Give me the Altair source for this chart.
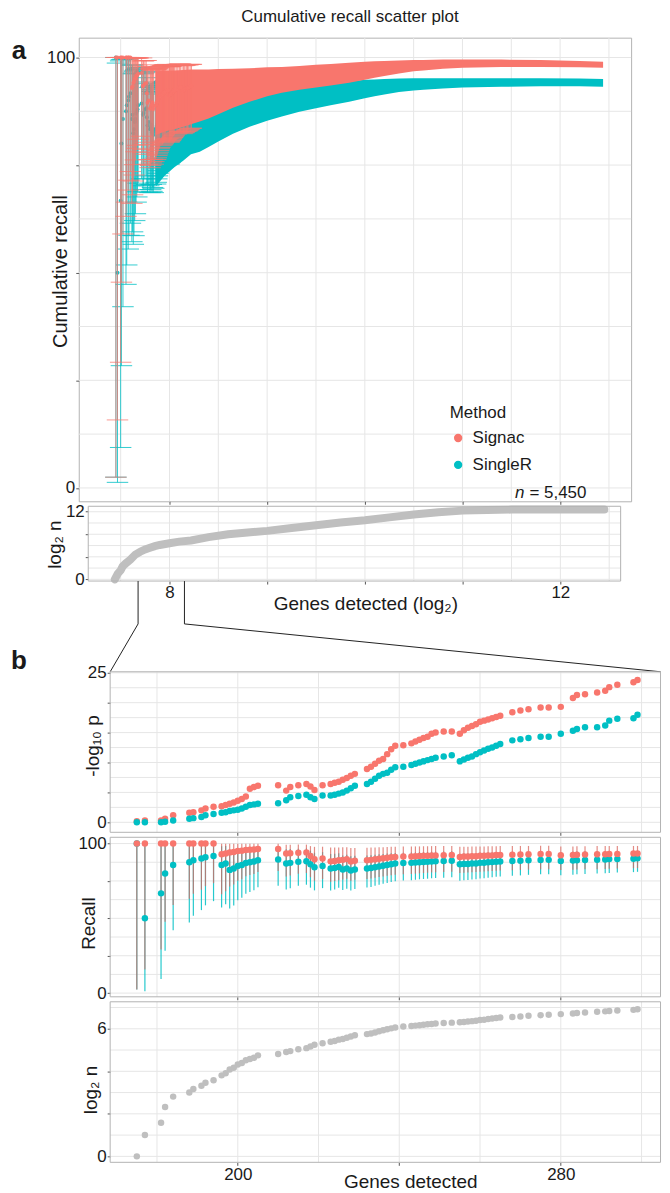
import altair as alt
import pandas as pd

FONT = "Liberation Sans"
RED = "#F8766D"
TEAL = "#00BFC4"
PT_GREY = "#bfbfbf"
GRID = "#e6e6e6"
BORDER = "#b3b3b3"
TICK = "#555555"
INK = "#1a1a1a"

methods = ["Signac", "SingleR"]

# ---------------- panel b data (genes detected, per point) ----------------
genes = [175, 177, 181, 182, 184, 188, 189, 191, 192, 194,
         196, 197, 198, 199, 200, 201, 202, 203, 204, 205,
         210, 212, 213, 215, 217, 218, 219, 221, 223, 224,
         225, 226, 227, 228, 229, 232, 233, 234, 235, 236,
         237, 238, 239, 241, 243, 244, 245, 246, 247, 248,
         249, 251, 253, 255, 256, 257, 258, 259, 260, 261,
         262, 263, 264, 265, 268, 270, 272, 275, 277, 280,
         283, 284, 286, 289, 291, 292, 294, 298, 299]

log2n = [0.00, 1.00, 1.58, 2.32, 2.81, 3.00, 3.17, 3.32, 3.46, 3.58,
         3.81, 3.91, 4.09, 4.17, 4.32, 4.39, 4.52, 4.58, 4.64, 4.75,
         4.81, 4.91, 4.95, 5.04, 5.09, 5.17, 5.25, 5.32, 5.39, 5.43,
         5.49, 5.52, 5.58, 5.64, 5.70, 5.75, 5.78, 5.83, 5.88, 5.93,
         5.98, 6.02, 6.06, 6.11, 6.13, 6.15, 6.17, 6.19, 6.21, 6.23,
         6.25, 6.27, 6.29, 6.31, 6.32, 6.34, 6.36, 6.38, 6.41, 6.43,
         6.46, 6.48, 6.51, 6.53, 6.55, 6.58, 6.61, 6.64, 6.66, 6.69,
         6.72, 6.74, 6.77, 6.80, 6.82, 6.84, 6.86, 6.89, 6.92]

nlp_signac = [0.2, 0.3, 0.3, 0.6, 1.2, 1.6, 1.7, 2.0, 2.3, 2.6,
              2.7, 2.9, 3.1, 3.3, 3.6, 3.9, 4.3, 5.6, 5.9, 6.1,
              6.2, 5.3, 5.9, 6.2, 6.4, 6.0, 5.4, 6.2, 6.4, 6.6,
              6.8, 7.1, 7.4, 7.8, 8.1, 8.9, 9.3, 9.8, 10.3, 10.6,
              11.4, 12.2, 12.8, 12.9, 13.2, 13.5, 13.8, 14.1, 14.3, 14.8,
              15.0, 15.2, 15.2, 14.8, 15.4, 15.8, 16.1, 16.4, 16.8, 17.0,
              17.2, 17.4, 17.6, 17.8, 18.4, 18.7, 18.9, 19.2, 19.2, 19.3,
              20.8, 21.3, 21.4, 21.7, 22.0, 22.6, 23.0, 23.4, 23.8]

nlp_singler = [0.0, 0.0, 0.0, 0.1, 0.3, 0.6, 0.7, 0.9, 1.2, 1.4,
               1.6, 1.7, 1.9, 2.0, 2.1, 2.3, 2.6, 2.9, 3.0, 3.1,
               3.2, 3.7, 4.2, 4.4, 4.6, 4.2, 3.9, 4.5, 4.5, 4.6,
               4.8, 5.0, 5.3, 5.7, 6.1, 6.4, 6.8, 7.3, 7.8, 8.1,
               8.3, 8.8, 9.2, 9.3, 9.6, 9.8, 10.0, 10.2, 10.4, 10.6,
               10.8, 11.0, 11.2, 10.2, 10.5, 10.8, 11.0, 11.4, 11.7, 12.0,
               12.3, 12.5, 12.8, 13.1, 13.7, 13.9, 14.1, 14.3, 14.3, 14.8,
               15.3, 15.6, 15.9, 15.9, 16.2, 17.0, 17.3, 17.4, 18.0]

rec_signac = [100, 100, 100, 100, 100, 100, 100, 100, 100, 100,
              92.9, 93.3, 94.1, 94.4, 95.0, 95.2, 95.7, 95.8, 96.0, 96.3,
              96.4, 93.3, 93.5, 93.9, 94.1, 91.7, 89.5, 90.0, 88.1, 88.4,
              88.9, 89.1, 89.6, 88.0, 88.5, 88.9, 89.1, 89.5, 89.8, 90.2,
              90.5, 90.8, 91.0, 91.3, 91.4, 91.5, 91.7, 91.8, 91.9, 92.0,
              92.1, 92.2, 92.3, 91.1, 91.3, 91.4, 91.5, 91.6, 91.8, 91.9,
              92.0, 92.1, 92.3, 92.4, 92.6, 92.7, 92.9, 93.0, 93.1, 92.2,
              92.4, 92.5, 92.7, 92.8, 92.9, 93.0, 93.1, 93.3, 93.4]

rec_signac_lo = [2.5, 15.8, 29.2, 47.8, 59.0, 63.1, 66.4, 69.2, 71.5, 73.5,
                 66.1, 68.1, 71.3, 72.7, 75.1, 76.2, 78.1, 78.9, 79.6, 81.0,
                 81.7, 77.9, 78.6, 79.8, 80.3, 77.5, 75.2, 76.3, 74.4, 74.9,
                 75.5, 75.9, 76.4, 75.2, 75.8, 76.3, 76.7, 77.2, 77.6, 78.0,
                 78.4, 78.8, 79.1, 79.5, 79.7, 79.9, 80.1, 80.3, 80.5, 80.7,
                 80.9, 81.0, 81.2, 80.3, 80.5, 80.7, 80.8, 81.0, 81.2, 81.4,
                 81.5, 81.7, 81.8, 82.0, 82.2, 82.4, 82.6, 82.8, 82.9, 82.3,
                 82.5, 82.6, 82.8, 82.9, 83.0, 83.2, 83.3, 83.5, 83.6]

rec_signac_hi = [100, 100, 100, 100, 100, 100, 100, 100, 100, 100,
                 99.8, 99.8, 99.9, 99.9, 99.9, 99.9, 99.9, 99.9, 99.9, 99.9,
                 99.9, 99.2, 99.2, 99.3, 99.3, 98.3, 97.8, 97.9, 97.3, 97.3,
                 97.4, 97.5, 97.6, 97.0, 97.1, 97.2, 97.3, 97.4, 97.5, 97.6,
                 97.7, 97.8, 97.9, 98.0, 98.0, 98.1, 98.1, 98.2, 98.2, 98.3,
                 98.3, 98.3, 98.4, 97.8, 97.9, 97.9, 98.0, 98.0, 98.1, 98.1,
                 98.2, 98.2, 98.2, 98.3, 98.3, 98.4, 98.4, 98.5, 98.5, 98.1,
                 98.1, 98.2, 98.2, 98.3, 98.3, 98.3, 98.4, 98.4, 98.4]

rec_singler = [100, 50.0, 66.7, 80.0, 85.7, 87.5, 88.9, 90.0, 90.9, 91.7,
               85.7, 86.7, 82.4, 83.3, 85.0, 85.7, 87.0, 87.5, 88.0, 88.9,
               89.3, 86.7, 87.1, 87.9, 88.2, 86.1, 84.2, 85.0, 83.3, 83.7,
               84.4, 82.6, 83.3, 82.0, 82.7, 83.3, 83.6, 84.2, 84.7, 85.2,
               85.7, 86.2, 86.6, 87.0, 87.1, 87.3, 87.5, 87.7, 87.8, 88.0,
               88.2, 88.3, 88.5, 86.1, 86.3, 86.4, 86.6, 86.7, 87.1, 87.2,
               87.5, 87.6, 87.9, 88.0, 88.3, 88.5, 88.8, 89.0, 89.1, 88.3,
               88.6, 88.8, 89.0, 89.2, 89.4, 89.6, 89.7, 89.9, 90.1]

rec_singler_lo = [2.5, 1.3, 9.4, 28.4, 42.1, 47.3, 51.8, 55.5, 58.7, 61.5,
                  57.2, 59.5, 56.6, 58.6, 62.1, 63.7, 66.4, 67.6, 68.8, 70.8,
                  71.8, 69.3, 70.2, 71.8, 72.5, 70.5, 68.7, 70.2, 68.6, 69.3,
                  70.5, 68.9, 69.8, 68.6, 69.6, 70.6, 71.0, 71.8, 72.5, 73.1,
                  73.7, 74.3, 74.8, 75.3, 75.5, 75.8, 76.1, 76.3, 76.5, 76.8,
                  77.0, 77.2, 77.5, 75.2, 75.5, 75.7, 76.0, 76.2, 76.6, 76.8,
                  77.2, 77.4, 77.8, 78.0, 78.4, 78.7, 79.1, 79.4, 79.5, 78.8,
                  79.2, 79.4, 79.7, 79.9, 80.2, 80.4, 80.6, 80.9, 81.1]

rec_singler_hi = [100, 98.7, 99.2, 99.5, 99.6, 99.7, 99.7, 99.7, 99.8, 99.8,
                  98.2, 98.3, 96.2, 96.4, 96.8, 97.0, 97.2, 97.3, 97.5, 97.6,
                  97.7, 96.2, 96.4, 96.6, 96.7, 95.3, 93.9, 94.3, 93.0, 93.2,
                  93.5, 92.1, 92.5, 91.5, 91.8, 92.0, 92.2, 92.5, 92.8, 93.0,
                  93.3, 93.5, 93.7, 93.9, 94.0, 94.1, 94.2, 94.3, 94.4, 94.5,
                  94.6, 94.7, 94.8, 93.2, 93.3, 93.4, 93.5, 93.6, 93.8, 93.9,
                  94.0, 94.1, 94.3, 94.4, 94.5, 94.6, 94.8, 94.9, 95.0, 94.4,
                  94.6, 94.7, 94.8, 94.9, 95.0, 95.1, 95.2, 95.3, 95.4]

# ---------------- panel a: dense part drawn as bands (log2 genes) ----------------
band_x = [7.86, 7.95, 8.05, 8.14,
          8.22, 8.31, 8.40, 8.50, 8.65, 8.82, 9.00, 9.15, 9.33, 9.50, 9.65, 9.84,
          10.00, 10.10, 10.20, 10.35, 10.50, 10.60, 10.80, 11.00, 11.40, 11.80, 12.20, 12.44]
band_signac_lo = [82.0, 82.8, 83.3, 83.9,
                  84.5, 85.1, 85.8, 86.8, 88.3, 89.7, 91.0, 91.8, 92.5, 93.0, 93.5, 94.1,
                  94.8, 95.3, 95.7, 96.3, 96.8, 97.0, 97.4, 97.6, 97.8, 97.8, 97.7, 97.6]
band_signac_hi = [96.8, 96.9, 97.0, 97.1,
                  97.2, 97.2, 97.2, 97.3, 97.4, 97.5, 97.7, 97.8, 98.0, 98.3, 98.5, 98.8,
                  99.0, 99.1, 99.2, 99.3, 99.4, 99.4, 99.5, 99.5, 99.5, 99.4, 99.2, 99.0]
band_singler_hi = [83.0, 83.5, 84.0, 85.0,
                   86.0, 86.6, 87.3, 88.3, 89.8, 91.2, 92.2, 92.9, 93.5, 93.9, 94.2, 94.5,
                   94.8, 94.9, 95.0, 95.1, 95.2, 95.2, 95.2, 95.2, 95.2, 95.2, 95.1, 95.0]
band_singler_lo = [70.0, 72.5, 74.5, 76.0,
                   77.5, 78.1, 79.2, 80.5, 82.3, 83.9, 85.3, 86.3, 87.4, 88.2, 88.9, 89.7,
                   90.5, 91.0, 91.4, 92.0, 92.3, 92.5, 92.8, 93.0, 93.2, 93.3, 93.3, 93.2]

# ---------------- panel a: log2 n curve ----------------
sub_x = [7.44, 7.47, 7.50, 7.52, 7.55, 7.60, 7.65, 7.70, 7.75, 7.80, 7.85, 7.90, 8.00,
         8.10, 8.22, 8.40, 8.60, 8.80, 9.00, 9.25, 9.50, 9.75, 10.00, 10.25, 10.50,
         10.75, 11.00, 11.25, 11.50, 12.00, 12.45]
sub_log2n = [0.0, 1.0, 1.6, 2.3, 2.8, 3.5, 4.4, 4.9, 5.3, 5.6, 5.9, 6.1, 6.4,
             6.7, 6.9, 7.5, 8.0, 8.3, 8.6, 9.1, 9.6, 10.1, 10.5, 11.0, 11.5,
             11.9, 12.2, 12.32, 12.38, 12.40, 12.41]

for arr in [log2n, nlp_signac, nlp_singler, rec_signac, rec_signac_lo, rec_signac_hi,
            rec_singler, rec_singler_lo, rec_singler_hi]:
    assert len(arr) == len(genes), len(arr)
for arr in [band_signac_lo, band_signac_hi, band_singler_lo, band_singler_hi]:
    assert len(arr) == len(band_x), len(arr)
assert len(sub_x) == len(sub_log2n)

sig = pd.DataFrame({"genes": genes, "log2n": log2n, "method": "Signac", "nlp": nlp_signac,
                    "rec": rec_signac, "lo": rec_signac_lo, "hi": rec_signac_hi})
sgr = pd.DataFrame({"genes": genes, "log2n": log2n, "method": "SingleR", "nlp": nlp_singler,
                    "rec": rec_singler, "lo": rec_singler_lo, "hi": rec_singler_hi})
band = pd.DataFrame({"x": band_x, "slo": band_signac_lo, "shi": band_signac_hi,
                     "tlo": band_singler_lo, "thi": band_singler_hi})
subdf = pd.DataFrame({"x": sub_x, "y": sub_log2n})
one = pd.DataFrame({"k": [0]})


def only(vals):
    return " || ".join(f"datum.value == {v}" for v in vals) + " ? datum.label : ''"


# ---------------- layout constants (pixels, all panels left-aligned at the main panel) ----------------
WA, HA = 554, 465          # main panel a
SUB_L, SUB_R, HS = 9.5, 543.5, 75     # sub panel of a (inset from the main panel's left edge)
B_L, B_R = 31.5, 583.5     # panel b (inset)
H1, H2, H3 = 161, 160, 161

# ---------------- scales ----------------
XA = alt.Scale(domain=[7.071, 12.727], nice=False, zero=False)
YA = alt.Scale(domain=[-3.1, 104.6], nice=False, zero=False)
XS = alt.Scale(domain=[7.168, 12.617], range=[SUB_L, SUB_R], nice=False, zero=False)
YS = alt.Scale(domain=[-0.3, 12.97], nice=False, zero=False)
XB = alt.Scale(domain=[168.4, 304.7], range=[B_L, B_R], nice=False, zero=False)
YB1 = alt.Scale(domain=[-1.667, 25.167], nice=False, zero=False)
YB2 = alt.Scale(domain=[-2.47, 104.2], nice=False, zero=False)
YB3 = alt.Scale(domain=[-0.28, 7.27], nice=False, zero=False)
CSCALE = alt.Scale(domain=methods, range=[RED, TEAL])

# ---------------- axes ----------------
AXA_X = alt.Axis(values=[8, 9, 10, 11, 12], labels=False, title=None)
AXA_Y = alt.Axis(values=[0, 25, 50, 75, 100], labelExpr=only([0, 100]), title="Cumulative recall",
                 titleAngle=270, titleX=-18, titleY=234, titleAlign="center", titleBaseline="middle",
                 titleFontSize=20)
AXS_X = alt.Axis(values=[8, 9, 10, 11, 12], labelExpr=only([8, 12]), title="Genes detected (log₂)",
                 titleX=287.5, titleY=23, titleAlign="center", titleBaseline="middle")
AXS_Y = alt.Axis(values=[0, 4, 8, 12], labelExpr=only([0, 12]), title="log₂ n", offset=-SUB_L,
                 titleAngle=270, titleX=-34, titleY=38, titleAlign="center", titleBaseline="middle")
AXB_X = alt.Axis(values=[200, 240, 280], labels=False, title=None)
AXB1_Y = alt.Axis(values=[0, 5, 10, 15, 20, 25], labelExpr=only([0, 25]), title="-log₁₀ p",
                  offset=-B_L, titleAngle=270, titleX=-18, titleY=74, titleAlign="center",
                  titleBaseline="middle")
AXB2_Y = alt.Axis(values=[0, 25, 50, 75, 100], labelExpr=only([0, 100]), title="Recall",
                  offset=-B_L, titleAngle=270, titleX=-22, titleY=86, titleAlign="center",
                  titleBaseline="middle")
AXB3_Y = alt.Axis(values=[0, 2, 4, 6], labelExpr=only([0, 6]), title="log₂ n",
                  offset=-B_L, titleAngle=270, titleX=-20, titleY=88, titleAlign="center",
                  titleBaseline="middle")
AXB3_X = alt.Axis(values=[200, 240, 280], labelExpr=only([200, 280]), title="Genes detected",
                  titleX=332.5, titleY=19, titleAlign="center", titleBaseline="middle")

NOFRAME = alt.ViewBackground(stroke="transparent")


def vgrid(vals, scale, axis):
    return alt.Chart(pd.DataFrame({"v": vals})).mark_rule(color=GRID, strokeWidth=1).encode(
        x=alt.X("v:Q", scale=scale, axis=axis))


def hgrid(vals, scale, axis, x0=None, x1=None):
    enc = dict(y=alt.Y("v:Q", scale=scale, axis=axis))
    if x0 is not None:
        enc["x"] = alt.value(x0)
        enc["x2"] = alt.value(x1)
    return alt.Chart(pd.DataFrame({"v": vals})).mark_rule(color=GRID, strokeWidth=1).encode(**enc)


def frame(x0, x1, h):
    return alt.Chart(one).mark_rect(fillOpacity=0, stroke=BORDER, strokeWidth=1).encode(
        x=alt.value(x0), x2=alt.value(x1), y=alt.value(0), y2=alt.value(h))


def deco_rule(x1, y1, x2, y2, color="#222222", width=1.0, opacity=1.0):
    return alt.Chart(one).mark_rule(color=color, strokeWidth=width, opacity=opacity).encode(
        x=alt.value(x1), y=alt.value(y1), x2=alt.value(x2), y2=alt.value(y2))


def deco_text(txt, x, y, size, weight="normal", style="normal", align="center"):
    return alt.Chart(one).mark_text(text=txt, font=FONT, fontSize=size, fontWeight=weight,
                                    fontStyle=style, align=align, baseline="middle",
                                    color=INK).encode(x=alt.value(x), y=alt.value(y))


LG = "log(datum.genes) / LN2"


# ---------------- panel a main ----------------
def early_bars(df, color, opacity):
    base = alt.Chart(df).transform_calculate(lg=LG, xl=LG + " - 0.11", xr=LG + " + 0.11")
    vert = base.mark_rule(color=color, strokeWidth=1, opacity=opacity).encode(
        x=alt.X("lg:Q", scale=XA, axis=AXA_X), y=alt.Y("lo:Q", scale=YA, axis=AXA_Y), y2="hi:Q")
    cap_lo = base.mark_rule(color=color, strokeWidth=1, opacity=opacity).encode(
        x=alt.X("xl:Q", scale=XA, axis=AXA_X), x2="xr:Q", y=alt.Y("lo:Q", scale=YA, axis=AXA_Y))
    cap_hi = base.mark_rule(color=color, strokeWidth=1, opacity=opacity).encode(
        x=alt.X("xl:Q", scale=XA, axis=AXA_X), x2="xr:Q", y=alt.Y("hi:Q", scale=YA, axis=AXA_Y))
    return [vert, cap_lo, cap_hi]


LEGEND = alt.Legend(title="Method", orient="none", legendX=372, legendY=368,
                    titleFontSize=17, labelFontSize=17, titleFont=FONT,
                    labelFont=FONT, titleFontWeight="normal", symbolType="circle",
                    symbolSize=70, symbolStrokeWidth=0, symbolOpacity=1,
                    rowPadding=9, titlePadding=8, labelOffset=6,
                    titleColor=INK, labelColor=INK)


def points_a(df):
    return alt.Chart(df).transform_calculate(lg=LG).mark_circle(size=16, opacity=0.9).encode(
        x=alt.X("lg:Q", scale=XA, axis=AXA_X),
        y=alt.Y("rec:Q", scale=YA, axis=AXA_Y),
        color=alt.Color("method:N", scale=CSCALE, legend=LEGEND))


teal_band = alt.Chart(band).mark_area(color=TEAL, opacity=1).encode(
    x=alt.X("x:Q", scale=XA, axis=AXA_X), y=alt.Y("tlo:Q", scale=YA, axis=AXA_Y), y2="thi:Q")
red_band = alt.Chart(band).mark_area(color=RED, opacity=1).encode(
    x=alt.X("x:Q", scale=XA, axis=AXA_X), y=alt.Y("slo:Q", scale=YA, axis=AXA_Y), y2="shi:Q")

main_layers = [vgrid([7.5, 8, 8.5, 9, 9.5, 10, 10.5, 11, 11.5, 12, 12.5], XA, AXA_X),
               hgrid([0, 12.5, 25, 37.5, 50, 62.5, 75, 87.5, 100], YA, AXA_Y)]
main_layers += early_bars(sgr, TEAL, 0.8)
main_layers += [teal_band, points_a(sgr), red_band]
main_layers += early_bars(sig, RED, 0.75)
main_layers += [points_a(sig),
                deco_text("Cumulative recall scatter plot", 272, -21, 17),
                deco_text("a", -60, 13, 26, weight="bold"),
                deco_text("n", 447, 457, 17, style="italic", align="right"),
                deco_text("= 5,450", 452, 457, 17, align="left"),
                deco_rule(-78.5, -35, -77.5, -35, opacity=0)]

mainA = alt.layer(*main_layers).properties(width=WA, height=HA)

# ---------------- panel a sub (log2 n) ----------------
sub_line = alt.Chart(subdf).mark_line(color=PT_GREY, strokeWidth=8, strokeCap="round").encode(
    x=alt.X("x:Q", scale=XS, axis=AXS_X), y=alt.Y("y:Q", scale=YS, axis=AXS_Y))
subA = alt.layer(
    vgrid([7.5, 8, 8.5, 9, 9.5, 10, 10.5, 11, 11.5, 12, 12.5], XS, AXS_X),
    hgrid([0, 2, 4, 6, 8, 10, 12], YS, AXS_Y, SUB_L, SUB_R),
    sub_line,
    frame(SUB_L, SUB_R, HS),
    deco_rule(59.5, HS, 59.5, 118),
    deco_rule(59.5, 118, B_L, 166),
    deco_rule(106, HS, 106, 118),
    deco_rule(106, 118, B_R, 166),
).properties(width=WA, height=HS, view=NOFRAME)

spacer = alt.Chart(one).mark_point(opacity=0).encode(x=alt.value(0), y=alt.value(0)).properties(
    width=10, height=81, view=NOFRAME)

# ---------------- panel b ----------------
XB_GRID = [180, 200, 220, 240, 260, 280, 300]

b1 = alt.layer(
    vgrid(XB_GRID, XB, AXB_X),
    hgrid([0, 2.5, 5, 7.5, 10, 12.5, 15, 17.5, 20, 22.5, 25], YB1, AXB1_Y, B_L, B_R),
    alt.Chart(sig).mark_circle(size=42, color=RED, opacity=1).encode(
        x=alt.X("genes:Q", scale=XB, axis=AXB_X), y=alt.Y("nlp:Q", scale=YB1, axis=AXB1_Y)),
    alt.Chart(sgr).mark_circle(size=42, color=TEAL, opacity=1).encode(
        x=alt.X("genes:Q", scale=XB, axis=AXB_X), y=alt.Y("nlp:Q", scale=YB1, axis=AXB1_Y)),
    frame(B_L, B_R, H1),
    deco_text("b", -60, -11, 26, weight="bold"),
).properties(width=B_R, height=H1, view=NOFRAME)


def bars(df, color, op):
    return alt.Chart(df).mark_rule(color=color, strokeWidth=1.2, opacity=op).encode(
        x=alt.X("genes:Q", scale=XB, axis=AXB_X), y=alt.Y("lo:Q", scale=YB2, axis=AXB2_Y), y2="hi:Q")


b2 = alt.layer(
    vgrid(XB_GRID, XB, AXB_X),
    hgrid([0, 12.5, 25, 37.5, 50, 62.5, 75, 87.5, 100], YB2, AXB2_Y, B_L, B_R),
    bars(sgr, TEAL, 0.85),
    bars(sig, "#d9665c", 0.75),
    alt.Chart(sgr).mark_circle(size=42, color=TEAL, opacity=1).encode(
        x=alt.X("genes:Q", scale=XB, axis=AXB_X), y=alt.Y("rec:Q", scale=YB2, axis=AXB2_Y)),
    alt.Chart(sig).mark_circle(size=42, color=RED, opacity=1).encode(
        x=alt.X("genes:Q", scale=XB, axis=AXB_X), y=alt.Y("rec:Q", scale=YB2, axis=AXB2_Y)),
    frame(B_L, B_R, H2),
).properties(width=B_R, height=H2, view=NOFRAME)

b3 = alt.layer(
    vgrid(XB_GRID, XB, AXB3_X),
    hgrid([0, 1, 2, 3, 4, 5, 6, 7], YB3, AXB3_Y, B_L, B_R),
    alt.Chart(sig).mark_circle(size=42, color=PT_GREY, opacity=1).encode(
        x=alt.X("genes:Q", scale=XB, axis=AXB3_X), y=alt.Y("log2n:Q", scale=YB3, axis=AXB3_Y)),
    frame(B_L, B_R, H3),
    deco_rule(591.5, 191, 592.5, 191, opacity=0),
).properties(width=B_R, height=H3, view=NOFRAME)

chart = alt.vconcat(mainA, subA, spacer, b1, b2, b3, spacing=5, bounds="flush").properties(
    padding=0, background="white"
).configure_axis(
    domain=False, grid=False, tickColor=TICK, tickSize=3, tickWidth=1,
    labelFont=FONT, labelFontSize=17, labelColor=INK, labelPadding=1,
    titleFont=FONT, titleFontSize=19, titleFontWeight="normal", titleColor=INK,
).configure_view(stroke=BORDER, strokeWidth=1)

chart.save("out.html", embed_options={"renderer": "svg", "actions": False})
